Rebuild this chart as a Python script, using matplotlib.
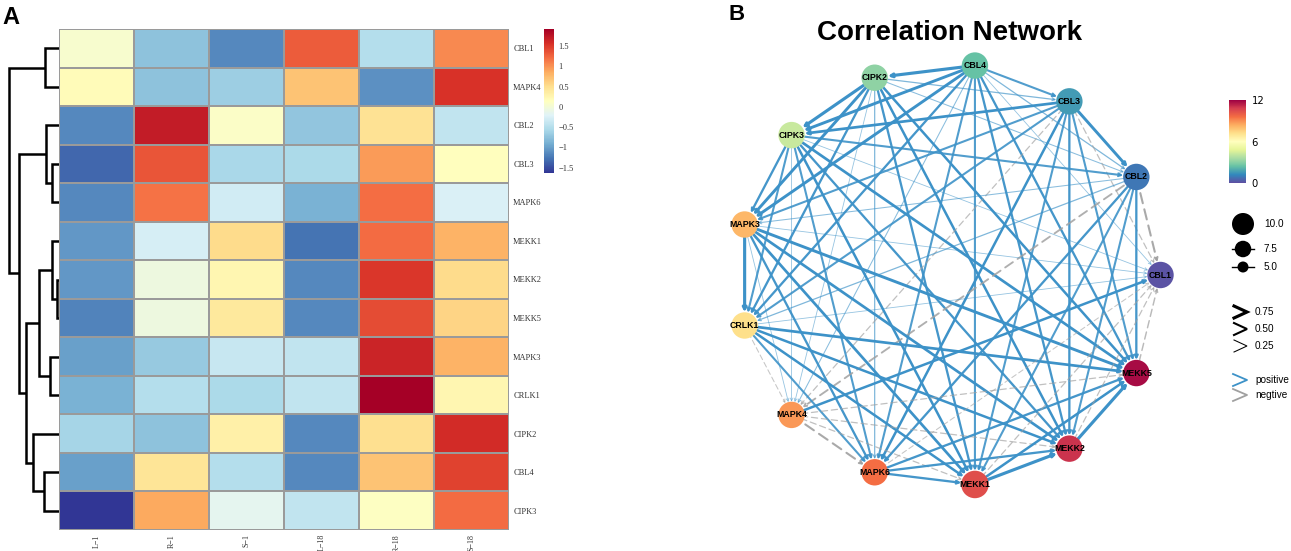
import numpy as np
import matplotlib.pyplot as plt
from matplotlib.patches import Circle, FancyArrowPatch
from matplotlib.colors import Normalize
import matplotlib.cm as cm

# ---- panel A data: heatmap (row z-scores) ----
genes = ['CBL1', 'MAPK4', 'CBL2', 'CBL3', 'MAPK6', 'MEKK1', 'MEKK2',
         'MEKK5', 'MAPK3', 'CRLK1', 'CIPK2', 'CBL4', 'CIPK3']
samples = ['L\u22121', 'R\u22121', 'S\u22121', 'L\u221218', 'R\u221218', 'S\u221218']
expr = np.array([
    [0.05, -0.75, -1.15, 1.30, -0.50, 1.05],
    [0.20, -0.75, -0.65, 0.70, -1.10, 1.55],
    [-1.15, 1.70, 0.10, -0.72, 0.47, -0.42],
    [-1.35, 1.35, -0.57, -0.55, 0.95, 0.15],
    [-1.15, 1.18, -0.30, -0.88, 1.20, -0.25],
    [-1.05, -0.28, 0.52, -1.27, 1.22, 0.82],
    [-1.05, -0.05, 0.25, -1.15, 1.52, 0.52],
    [-1.18, -0.05, 0.40, -1.15, 1.40, 0.58],
    [-1.00, -0.70, -0.37, -0.42, 1.65, 0.82],
    [-0.88, -0.50, -0.55, -0.42, 1.92, 0.25],
    [-0.60, -0.75, 0.32, -1.15, 0.50, 1.60],
    [-1.00, 0.45, -0.50, -1.15, 0.70, 1.45],
    [-1.63, 0.87, -0.15, -0.42, 0.12, 1.22],
])
hm_ticks = [-1.5, -1, -0.5, 0, 0.5, 1, 1.5]

# row dendrogram: (left, right, height); ints refer to earlier merges
merges = [
    ('MEKK2', 'MEKK5', 2.3),
    ('CBL3', 'MAPK6', 7.3),
    ('MEKK1', 0, 6.7),
    ('MAPK3', 'CRLK1', 9),
    ('CBL2', 1, 13),
    ('CBL1', 'MAPK4', 14),
    ('CBL4', 'CIPK3', 15),
    (2, 3, 19.7),
    ('CIPK2', 6, 25.7),
    (7, 8, 33),
    (4, 9, 39.7),
    (5, 10, 50),
]

# ---- panel B data: correlation network ----
net_nodes = ['CBL1', 'CBL2', 'CBL3', 'CBL4', 'CIPK2', 'CIPK3', 'MAPK3',
             'CRLK1', 'MAPK4', 'MAPK6', 'MEKK1', 'MEKK2', 'MEKK5']
node_value = [0.1, 0.85, 1.6, 2.4, 3.1, 4.2, 8.2, 7.2, 8.8, 9.6, 10.4, 11.0, 11.8]
node_size = [12, 12, 12, 12, 12, 12, 12, 12, 12, 12, 12.5, 12, 12]
# (source, target, |r|, sign)
edges = [
    ('CBL4', 'CIPK2', 0.75, 1), ('CBL4', 'CBL3', 0.5, 1), ('CBL4', 'CIPK3', 0.7, 1),
    ('CBL4', 'MAPK3', 0.7, 1), ('CBL4', 'CRLK1', 0.55, 1), ('CBL4', 'MAPK6', 0.5, 1),
    ('CBL4', 'MEKK1', 0.5, 1), ('CBL4', 'MEKK2', 0.55, 1), ('CBL4', 'MEKK5', 0.55, 1),
    ('CBL4', 'CBL2', 0.3, 1), ('CBL4', 'MAPK4', 0.25, 1), ('CBL4', 'CBL1', 0.2, 1),
    ('CIPK2', 'CIPK3', 0.75, 1), ('CIPK2', 'CBL3', 0.3, 1), ('CIPK2', 'MAPK3', 0.7, 1),
    ('CIPK2', 'CRLK1', 0.55, 1), ('CIPK2', 'MAPK6', 0.3, 1), ('CIPK2', 'MEKK1', 0.55, 1),
    ('CIPK2', 'MEKK2', 0.6, 1), ('CIPK2', 'MEKK5', 0.6, 1), ('CIPK2', 'CBL2', 0.25, 1),
    ('CIPK2', 'MAPK4', 0.2, 1),
    ('CBL3', 'CIPK3', 0.65, 1), ('CBL3', 'CBL2', 0.7, 1), ('CBL3', 'MAPK3', 0.5, 1),
    ('CBL3', 'CRLK1', 0.5, 1), ('CBL3', 'MAPK6', 0.6, 1), ('CBL3', 'MEKK1', 0.5, 1),
    ('CBL3', 'MEKK2', 0.55, 1), ('CBL3', 'MEKK5', 0.5, 1), ('CBL3', 'CBL1', 0.3, -1),
    ('CBL3', 'MAPK4', 0.3, -1),
    ('CIPK3', 'CBL2', 0.5, 1), ('CIPK3', 'MAPK3', 0.55, 1), ('CIPK3', 'CRLK1', 0.5, 1),
    ('CIPK3', 'MAPK4', 0.2, 1), ('CIPK3', 'MAPK6', 0.5, 1), ('CIPK3', 'MEKK1', 0.6, 1),
    ('CIPK3', 'MEKK2', 0.55, 1), ('CIPK3', 'MEKK5', 0.65, 1), ('CIPK3', 'CBL1', 0.2, 1),
    ('CBL2', 'MAPK3', 0.25, 1), ('CBL2', 'CRLK1', 0.3, 1), ('CBL2', 'MAPK6', 0.55, 1),
    ('CBL2', 'MEKK1', 0.5, 1), ('CBL2', 'MEKK2', 0.5, 1), ('CBL2', 'MEKK5', 0.55, 1),
    ('CBL2', 'MAPK4', 0.45, -1), ('CBL2', 'CBL1', 0.5, -1),
    ('MAPK3', 'CRLK1', 0.75, 1), ('MAPK3', 'MAPK6', 0.55, 1), ('MAPK3', 'MEKK1', 0.65, 1),
    ('MAPK3', 'MEKK2', 0.65, 1), ('MAPK3', 'MEKK5', 0.7, 1), ('MAPK3', 'MAPK4', 0.2, 1),
    ('MAPK3', 'CBL1', 0.2, 1),
    ('CRLK1', 'MAPK4', 0.25, -1), ('CRLK1', 'MAPK6', 0.5, 1), ('CRLK1', 'MEKK1', 0.6, 1),
    ('CRLK1', 'MEKK2', 0.6, 1), ('CRLK1', 'MEKK5', 0.65, 1), ('CRLK1', 'CBL1', 0.2, 1),
    ('MAPK4', 'MAPK6', 0.5, -1), ('MAPK4', 'MEKK1', 0.3, -1), ('MAPK4', 'MEKK2', 0.3, -1),
    ('MAPK4', 'MEKK5', 0.3, -1), ('MAPK4', 'CBL1', 0.6, 1),
    ('MAPK6', 'MEKK1', 0.55, 1), ('MAPK6', 'MEKK2', 0.55, 1), ('MAPK6', 'MEKK5', 0.55, 1),
    ('MAPK6', 'CBL1', 0.25, -1),
    ('MEKK1', 'MEKK2', 0.75, 1), ('MEKK1', 'MEKK5', 0.6, 1), ('MEKK1', 'CBL1', 0.3, -1),
    ('MEKK2', 'MEKK5', 0.75, 1), ('MEKK2', 'CBL1', 0.3, -1),
    ('MEKK5', 'CBL1', 0.35, -1),
]
size_legend = [10.0, 7.5, 5.0]
width_legend = [0.75, 0.50, 0.25]

W, H = 1291, 551
fig = plt.figure(figsize=(W / 100, H / 100), dpi=100)

def fx(px):
    return px / W

def fy(py):
    return 1 - py / H

# heatmap
hm_l, hm_r, hm_t, hm_b = 59, 509, 29, 530
ax = fig.add_axes([fx(hm_l), fy(hm_b), fx(hm_r - hm_l), (hm_b - hm_t) / H])
vmin, vmax = -1.63, 1.92
mesh = ax.pcolormesh(expr, cmap='RdYlBu_r', vmin=vmin, vmax=vmax,
                     edgecolors='#9a9a9a', linewidth=1.4)
ax.set_xlim(0, len(samples))
ax.set_ylim(len(genes), 0)
for s in ax.spines.values():
    s.set_visible(False)
ax.set_xticks(np.arange(len(samples)) + 0.5)
ax.set_xticklabels(samples, rotation=90, fontsize=5.8, family='Liberation Serif', color='#333333')
ax.set_yticks(np.arange(len(genes)) + 0.5)
ax.set_yticklabels(genes, fontsize=6, family='Liberation Serif', color='#333333')
ax.yaxis.tick_right()
ax.tick_params(length=0, pad=3)

# dendrogram
axd = fig.add_axes([fx(7), fy(hm_b), fx(hm_l - 7), (hm_b - hm_t) / H])
pos = {g: (i + 0.5, 0.0) for i, g in enumerate(genes)}
nodes = []
for a, b, h in merges:
    ya, ha = nodes[a] if isinstance(a, int) else pos[a]
    yb, hb = nodes[b] if isinstance(b, int) else pos[b]
    axd.plot([ha, h, h, hb], [ya, ya, yb, yb], color='black', lw=1.8,
             solid_joinstyle='miter', solid_capstyle='butt')
    nodes.append(((ya + yb) / 2, h))
axd.set_xlim(hm_l - 7, 0)
axd.set_ylim(len(genes), 0)
axd.axis('off')

# heatmap colorbar
cax = fig.add_axes([fx(544), fy(173), fx(10), 144 / H])
cb = fig.colorbar(mesh, cax=cax)
cb.set_ticks(hm_ticks)
cb.set_ticklabels(['\u22121.5', '\u22121', '\u22120.5', '0', '0.5', '1', '1.5'])
cb.outline.set_visible(False)
cax.tick_params(length=0, labelsize=6, pad=3, colors='#333333')
for t in cax.get_yticklabels():
    t.set_family('Liberation Serif')

fig.text(fx(2), fy(17), 'A', fontsize=17, fontweight='bold', family='Liberation Sans', va='center')

# ---- network ----
axn = fig.add_axes([fx(690), 0, fx(W - 690), 1])
axn.set_xlim(690, W)
axn.set_ylim(H, 0)
axn.axis('off')

cx, cy, R = 949.5, 275, 211
n = len(net_nodes)
ang = 2 * np.pi * np.arange(n) / n
xy = {g: (cx + R * np.cos(a), cy - R * np.sin(a)) for g, a in zip(net_nodes, ang)}
rad = {g: 1.1 * s for g, s in zip(net_nodes, node_size)}

pos_col, neg_col = '#3d92c8', '#a0a0a0'
for src, tgt, w, sgn in edges:
    col = pos_col if sgn > 0 else neg_col
    ls = '-' if sgn > 0 else (0, (5, 3))
    arr = FancyArrowPatch(xy[src], xy[tgt], arrowstyle='->', mutation_scale=5,
                          lw=3.0 * w, color=col, linestyle=ls,
                          alpha=min(1, 0.3 + 1.2 * w),
                          shrinkA=0, shrinkB=rad[tgt] * 0.72, zorder=1)
    axn.add_patch(arr)

norm = Normalize(0, 12)
cmap = plt.get_cmap('Spectral_r')
for g, v in zip(net_nodes, node_value):
    axn.add_patch(Circle(xy[g], rad[g], color=cmap(norm(v)), zorder=3, lw=0))
    axn.text(xy[g][0], xy[g][1], g, ha='center', va='center', fontsize=6.3,
             fontweight='bold', family='Liberation Sans', zorder=4)

axn.text(950, 33, 'Correlation Network', ha='center', va='center', fontsize=20,
         fontweight='bold', family='Liberation Sans')
axn.text(728, 15, 'B', ha='left', va='center', fontsize=16, fontweight='bold',
         family='Liberation Sans')

# node colour bar
cax2 = fig.add_axes([fx(1229), fy(183), fx(17), 83 / H])
cb2 = fig.colorbar(cm.ScalarMappable(norm=norm, cmap=cmap), cax=cax2)
cb2.set_ticks([0, 6, 12])
cb2.outline.set_visible(False)
cax2.tick_params(length=0, labelsize=7.2, pad=4)

# size legend
for s, yy in zip(size_legend, [224, 249, 267]):
    axn.add_patch(Circle((1243, yy), 1.1 * s, color='black', lw=0))
    if s < 10:
        axn.plot([1232, 1254], [yy, yy], color='black', lw=1)
    axn.text(1264, yy, '%.1f' % s, va='center', fontsize=7.2, family='Liberation Sans')

# width legend
for wv, yy in zip(width_legend, [312, 329, 346]):
    axn.plot([1234, 1247, 1234], [yy - 6, yy, yy + 6], color='black', lw=3.0 * wv,
             solid_joinstyle='miter')
    axn.text(1255, yy, '%.2f' % wv, va='center', fontsize=7.2, family='Liberation Sans')

# sign legend
for lab, col, yy in [('positive', pos_col, 380), ('negtive', neg_col, 395)]:
    axn.plot([1233, 1247, 1233], [yy - 6, yy, yy + 6], color=col, lw=1.3)
    axn.text(1255, yy, lab, va='center', fontsize=7.2, family='Liberation Sans')

fig.savefig('out.png', dpi=100)
